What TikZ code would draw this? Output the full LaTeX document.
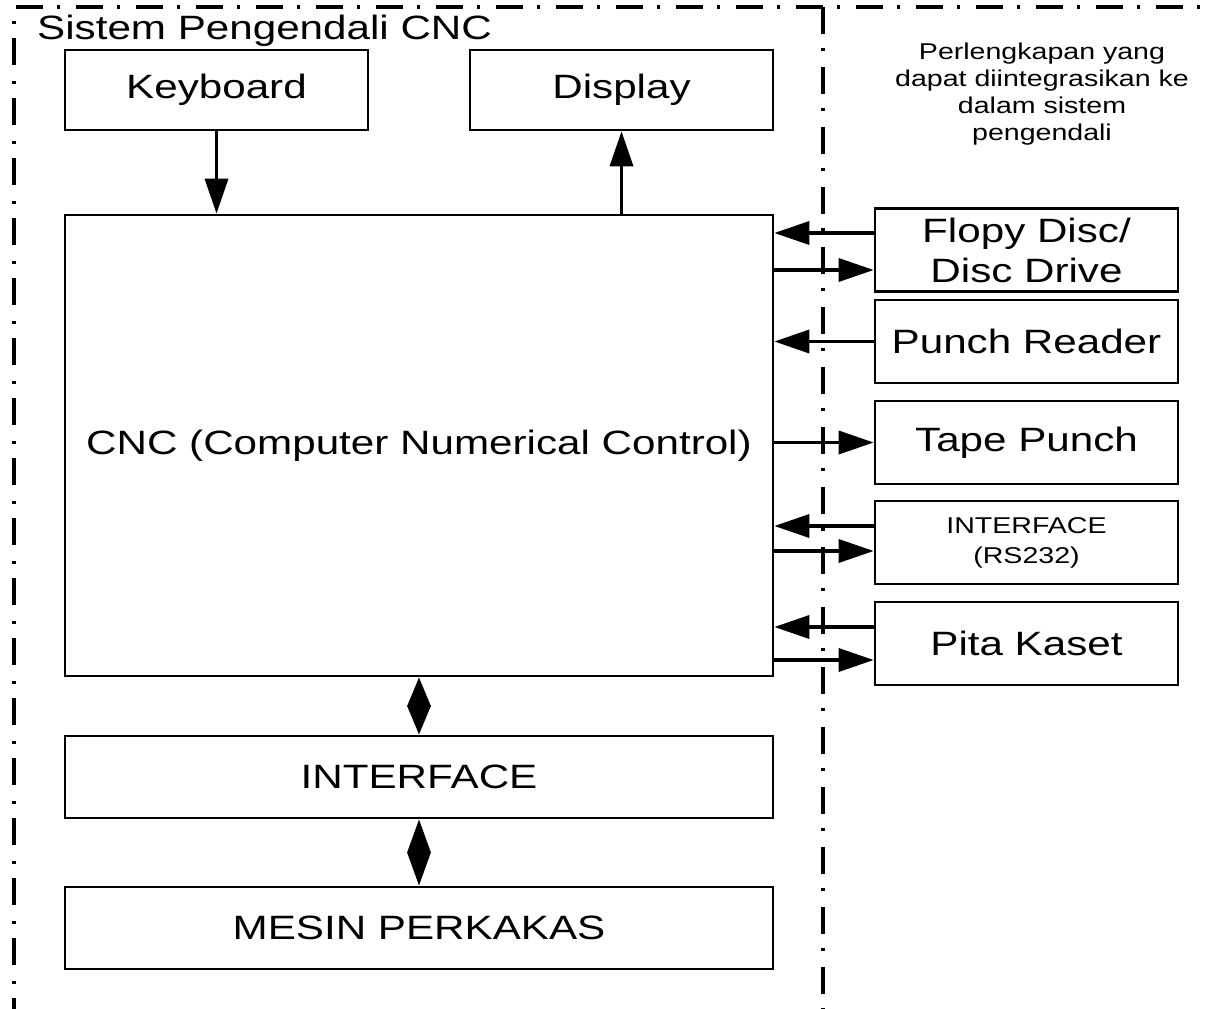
\documentclass[tikz,border=0pt]{standalone}
\usepackage{fontspec}
\setmainfont{Liberation Sans}[FakeStretch = 1.25]
\usetikzlibrary{arrows.meta}

\begin{document}
\begin{tikzpicture}[
   box/.style = {shape = rectangle, draw, line width = 1.5pt, fill = white, inner sep = 0pt, align = center, font = \fontsize{19.2}{22.7}\selectfont},
   side/.style = {box, minimum width = 6.06cm, minimum height = 1.66cm},
   frame/.style = {line width = 1.9pt, dash pattern = on 0.54cm off 0.29cm on 0.06cm off 0.31cm},
   link/.style = {line width = 2pt, -{Triangle[length = 0.7cm, width = 0.46cm]}},
   dual/.style = {line width = 2pt, {Triangle[length = #1, width = 0.46cm]}-{Triangle[length = #1, width = 0.46cm]}}
]
   \useasboundingbox (0,0) rectangle (24.22,-20.18);
   \draw [frame] (0.28,-20.5) -- (0.28,-0.14) -- (24.5,-0.14);
   \draw [frame] (16.46,-0.14) -- (16.46,-20.5);

   \node(title) at (0.62,-0.80) [anchor = base west, font = \fontsize{19.2}{22}\selectfont] {Sistem Pengendali CNC};
   \node(note) at (20.84,-1.88) [align = center, font = \fontsize{13}{15.3}\selectfont] {Perlengkapan yang\\dapat diintegrasikan ke\\dalam sistem\\pengendali};

   \node(keyboard) at (4.33,-1.80) [box, minimum width = 6.06cm, minimum height = 1.6cm] {Keyboard};
   \node(display) at (12.43,-1.80) [box, minimum width = 6.06cm, minimum height = 1.6cm] {Display};
   \node(cnc) at (8.38,-8.91) [box, minimum width = 14.16cm, minimum height = 9.22cm] {CNC (Computer Numerical Control)};
   \node(interface) at (8.38,-15.54) [box, minimum width = 14.16cm, minimum height = 1.64cm] {INTERFACE};
   \node(mesin) at (8.38,-18.56) [box, minimum width = 14.16cm, minimum height = 1.64cm] {MESIN PERKAKAS};

   \node(flopy) at (20.53,-5.00) [side] {Flopy Disc/\\Disc Drive};
   \node(reader) at (20.53,-6.83) [side] {Punch Reader};
   \node(tape) at (20.53,-8.85) [side] {Tape Punch};
   \node(rs) at (20.53,-10.85) [side, font = \fontsize{13}{17}\selectfont] {INTERFACE\\(RS232)};
   \node(kaset) at (20.53,-12.87) [side] {Pita Kaset};

   \draw [link] (keyboard.south) -- (keyboard.south |- cnc.north) ;
   \draw [link] (display.south |- cnc.north) -- (display.south) ;
   \draw [link] (flopy.west |- 0,-4.66) -- (cnc.east |- 0,-4.66) ;
   \draw [link] (cnc.east |- 0,-5.40) -- (flopy.west |- 0,-5.40) ;
   \draw [link] (reader.west) -- (cnc.east |- reader.west) ;
   \draw [link] (cnc.east |- tape.west) -- (tape.west) ;
   \draw [link] (rs.west |- 0,-10.52) -- (cnc.east |- 0,-10.52) ;
   \draw [link] (cnc.east |- 0,-11.02) -- (rs.west |- 0,-11.02) ;
   \draw [link] (kaset.west |- 0,-12.54) -- (cnc.east |- 0,-12.54) ;
   \draw [link] (cnc.east |- 0,-13.20) -- (kaset.west |- 0,-13.20) ;
   \draw [dual = 0.58cm] (cnc.south) -- (interface.north) ;
   \draw [dual = 0.67cm] (interface.south) -- (mesin.north) ;

\end{tikzpicture}
\end{document}
